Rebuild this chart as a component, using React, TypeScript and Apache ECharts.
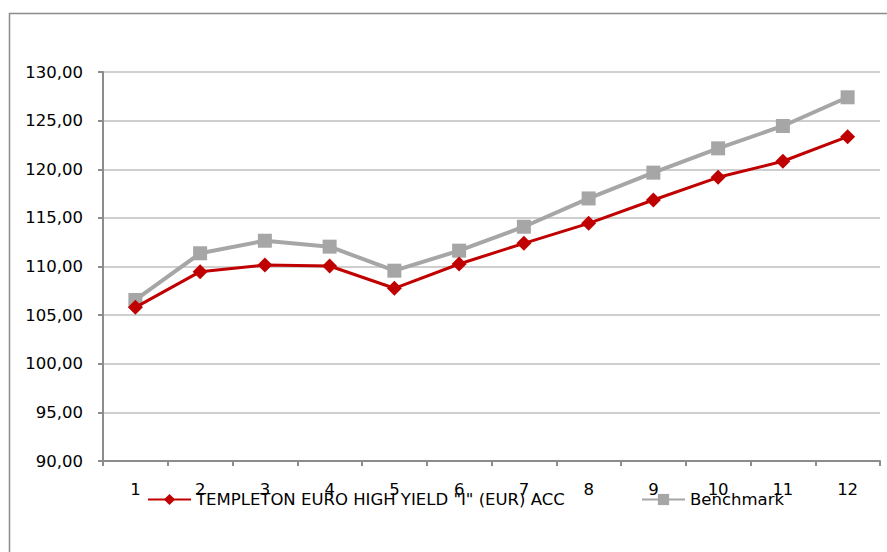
import React, { useEffect, useRef } from "react";
import * as echarts from "echarts";

const categories = ["1", "2", "3", "4", "5", "6", "7", "8", "9", "10", "11", "12"];
const fundName = 'TEMPLETON EURO HIGH YIELD "I" (EUR) ACC';
const benchName = "Benchmark";
const fundValues = [105.8, 109.47, 110.15, 110.05, 107.76, 110.26, 112.38, 114.44, 116.84, 119.17, 120.82, 123.35];
const benchValues = [106.56, 111.36, 112.65, 112.04, 109.57, 111.63, 114.09, 117.0, 119.65, 122.15, 124.45, 127.4];
const yMin = 90;
const yMax = 130;
const yStep = 5;

const FONT = "DejaVu Sans";
const FS = 16.5;

export default function App() {
  const ref = useRef<HTMLDivElement>(null);
  useEffect(() => {
    if (!ref.current) return;
    const chart = echarts.init(ref.current, undefined, { renderer: "svg" });
    chart.setOption({
      animation: false,
      backgroundColor: "#ffffff",
      textStyle: { fontFamily: FONT },
      graphic: [
        {
          type: "rect",
          shape: { x: 9.5, y: 13.5, width: 900, height: 600 },
          style: { fill: "none", stroke: "#8c8c8c", lineWidth: 1.5 },
          silent: true,
        },
      ],
      grid: { left: 103, right: 7, top: 72, bottom: 91, containLabel: false },
      xAxis: {
        type: "category",
        data: categories,
        boundaryGap: true,
        axisLine: { lineStyle: { color: "#8c8c8c", width: 2 } },
        axisTick: { show: true, length: 5, interval: 0, lineStyle: { color: "#8c8c8c", width: 2 } },
        axisLabel: { margin: 20, color: "#000", fontFamily: FONT, fontSize: FS, interval: 0 },
        splitLine: { show: false },
      },
      yAxis: {
        type: "value",
        min: yMin,
        max: yMax,
        interval: yStep,
        axisLine: { show: true, lineStyle: { color: "#8c8c8c", width: 2 } },
        axisTick: { show: true, length: 5, lineStyle: { color: "#8c8c8c", width: 2 } },
        axisLabel: {
          margin: 20,
          color: "#000",
          fontFamily: FONT,
          fontSize: FS,
          formatter: (v: number) => v.toFixed(2).replace(".", ","),
        },
        splitLine: { show: true, lineStyle: { color: "#bfbfbf", width: 1.5 } },
      },
      legend: [
        {
          data: [fundName],
          left: 147,
          top: 491,
          padding: 0,
          itemWidth: 43,
          itemHeight: 14,
          itemGap: 5,
          textStyle: { color: "#000", fontFamily: FONT, fontSize: FS },
        },
        {
          data: [benchName],
          left: 641,
          top: 491,
          padding: 0,
          itemWidth: 43,
          itemHeight: 14,
          itemGap: 5,
          textStyle: { color: "#000", fontFamily: FONT, fontSize: FS },
        },
      ],
      series: [
        {
          name: benchName,
          type: "line",
          data: benchValues,
          symbol: "rect",
          symbolSize: 14,
          itemStyle: { color: "#a6a6a6" },
          lineStyle: { color: "#a6a6a6", width: 4 },
          z: 2,
        },
        {
          name: fundName,
          type: "line",
          data: fundValues,
          symbol: "diamond",
          symbolSize: 15,
          itemStyle: { color: "#c00000" },
          lineStyle: { color: "#c00000", width: 3 },
          z: 3,
        },
      ],
    });
    return () => chart.dispose();
  }, []);
  return (
    <div
      ref={ref}
      style={{ position: "absolute", left: 0, top: 0, width: 887, height: 552 }}
    />
  );
}
